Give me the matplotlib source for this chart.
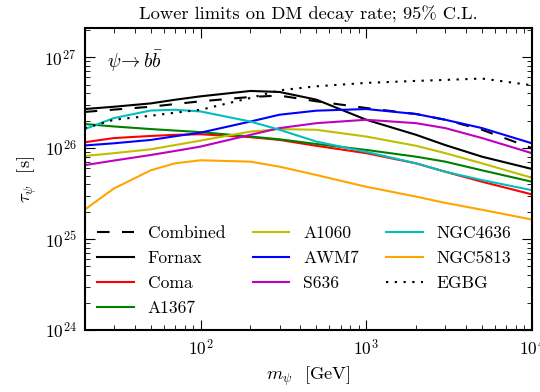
import matplotlib
matplotlib.use('Agg')
import matplotlib.pyplot as plt
import numpy as np

plt.rcParams['font.family'] = 'serif'
plt.rcParams['font.serif'] = ['cmr10', 'DejaVu Serif']
plt.rcParams['mathtext.fontset'] = 'cm'
plt.rcParams['axes.formatter.use_mathtext'] = True
plt.rcParams['axes.unicode_minus'] = False

mass = [20, 30, 50, 70, 100, 200, 300, 500, 1000, 2000, 3000, 5000, 10000]

combined = [2.5e26, 2.65e26, 2.85e26, 3.05e26, 3.27e26, 3.65e26, 3.78e26, 3.27e26, 2.76e26, 2.37e26, 2.05e26, 1.59e26, 1.0e26]
fornax = [2.69e26, 2.85e26, 3.1e26, 3.4e26, 3.71e26, 4.25e26, 4.14e26, 3.41e26, 2.05e26, 1.4e26, 1.08e26, 8.05e25, 5.9e25]
coma = [1.16e26, 1.29e26, 1.36e26, 1.4e26, 1.42e26, 1.32e26, 1.23e26, 1.06e26, 8.8e25, 6.8e25, 5.5e25, 4.27e25, 3.1e25]
a1367 = [1.84e26, 1.73e26, 1.62e26, 1.56e26, 1.5e26, 1.34e26, 1.25e26, 1.11e26, 9.55e25, 8.05e25, 7.1e25, 5.7e25, 4.27e25]
a1060 = [8.2e25, 8.8e25, 9.7e25, 1.08e26, 1.21e26, 1.52e26, 1.62e26, 1.59e26, 1.34e26, 1.06e26, 8.8e25, 6.8e25, 4.72e25]
awm7 = [1.07e26, 1.13e26, 1.23e26, 1.35e26, 1.48e26, 1.96e26, 2.33e26, 2.58e26, 2.69e26, 2.37e26, 2.05e26, 1.66e26, 1.13e26]
s636 = [6.5e25, 7.3e25, 8.4e25, 9.3e25, 1.04e26, 1.4e26, 1.66e26, 1.88e26, 2.05e26, 1.88e26, 1.66e26, 1.29e26, 8.8e25]
ngc4636 = [1.62e26, 2.14e26, 2.59e26, 2.64e26, 2.53e26, 1.96e26, 1.59e26, 1.18e26, 9.1e25, 6.8e25, 5.5e25, 4.45e25, 3.45e25]
ngc5813 = [2.11e25, 3.6e25, 5.7e25, 6.8e25, 7.35e25, 7.1e25, 6.25e25, 5.06e25, 3.76e25, 2.93e25, 2.5e25, 2.1e25, 1.64e25]
egbg = [1.66e26, 2.05e26, 2.27e26, 2.45e26, 2.64e26, 3.56e26, 4.32e26, 4.78e26, 5.21e26, 5.48e26, 5.62e26, 5.82e26, 4.91e26]

fig = plt.figure(figsize=(5.4, 3.92), dpi=100)
ax = fig.add_axes([0.157, 0.158, 0.828, 0.771])

lw = 1.5
ax.plot(mass, combined, 'k', lw=lw, dashes=(6, 6), label='Combined')
ax.plot(mass, fornax, 'k', lw=lw, label='Fornax')
ax.plot(mass, coma, 'r', lw=lw, label='Coma')
ax.plot(mass, a1367, 'g', lw=lw, label='A1367')
ax.plot(mass, a1060, color='#bfbf00', lw=lw, label='A1060')
ax.plot(mass, awm7, 'b', lw=lw, label='AWM7')
ax.plot(mass, s636, 'm', lw=lw, label='S636')
ax.plot(mass, ngc4636, 'c', lw=lw, label='NGC4636')
ax.plot(mass, ngc5813, color='orange', lw=lw, label='NGC5813')
ax.plot(mass, egbg, 'k', lw=lw, dashes=(1.1, 3.1), label='EGBG')

ax.set_xscale('log')
ax.set_yscale('log')
ax.set_xlim(20, 1e4)
ax.set_ylim(1e24, 2.1e27)
ax.tick_params(which='both', direction='in', top=True, right=True, labelsize=12.5)
ax.tick_params(which='major', length=7, pad=6)
ax.tick_params(which='minor', length=3.5)
for s in ax.spines.values():
    s.set_linewidth(1.5)

ax.set_title('Lower limits on DM decay rate; 95% C.L.', fontsize=13.3)
ax.set_xlabel(r'$m_\psi$  [GeV]', fontsize=13.3, labelpad=4)
ax.set_ylabel(r'$\tau_\psi$  [s]', fontsize=13.3)
ax.text(0.05, 0.93, r'$\psi\!\to b\bar{b}$', transform=ax.transAxes,
        fontsize=14, va='top', ha='left')

ax.legend(ncol=3, frameon=False, loc='lower left', bbox_to_anchor=(0.0, 0.005),
          fontsize=12.6, handlelength=2.1, handletextpad=0.8, columnspacing=1.55,
          labelspacing=0.55, borderaxespad=0.3)

fig.savefig('out.png', dpi=100)
